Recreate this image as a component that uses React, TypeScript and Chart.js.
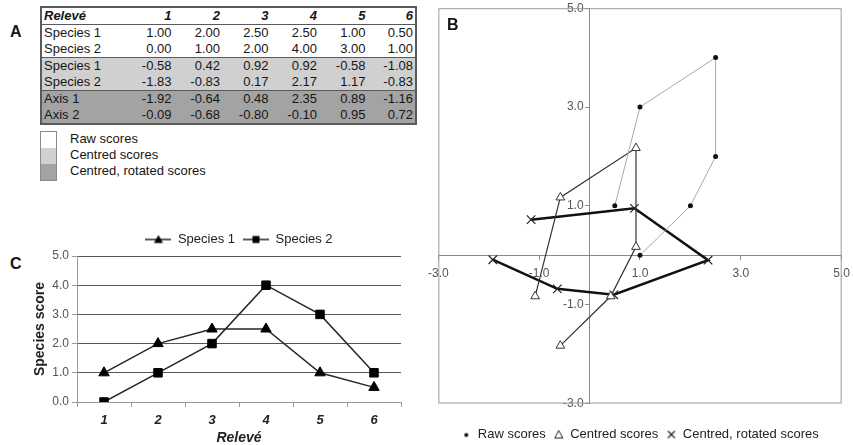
import React, { useEffect, useRef } from 'react';
import { Chart, registerables } from 'chart.js';

Chart.register(...registerables);

// ---------- data ----------
const releves = ['1', '2', '3', '4', '5', '6'];
const species1Raw = [1.0, 2.0, 2.5, 2.5, 1.0, 0.5];
const species2Raw = [0.0, 1.0, 2.0, 4.0, 3.0, 1.0];
const species1Centred = [-0.58, 0.42, 0.92, 0.92, -0.58, -1.08];
const species2Centred = [-1.83, -0.83, 0.17, 2.17, 1.17, -0.83];
const axis1Scores = [-1.92, -0.64, 0.48, 2.35, 0.89, -1.16];
const axis2Scores = [-0.09, -0.68, -0.8, -0.1, 0.95, 0.72];
const speciesNames = ['Species 1', 'Species 2'];
const axisNames = ['Axis 1', 'Axis 2'];
const scoreTypes = ['Raw scores', 'Centred scores', 'Centred, rotated scores'];
const groupColours = ['#ffffff', '#d0d0d0', '#a3a3a3'];
const tickValuesB = [-3, -1, 1, 3, 5];

const FONT = '"Liberation Sans", Arial, Helvetica, sans-serif';
Chart.defaults.font.family = FONT;

function makeIcon(w: number, h: number, draw: (ctx: CanvasRenderingContext2D) => void) {
  const c = document.createElement('canvas');
  c.width = w;
  c.height = h;
  const ctx = c.getContext('2d')!;
  draw(ctx);
  return c;
}

// ---------- Panel A ----------
function TablePanel() {
  const groups = [
    { bg: groupColours[0], rows: [[speciesNames[0], species1Raw], [speciesNames[1], species2Raw]] as [string, number[]][] },
    { bg: groupColours[1], rows: [[speciesNames[0], species1Centred], [speciesNames[1], species2Centred]] as [string, number[]][] },
    { bg: groupColours[2], rows: [[axisNames[0], axis1Scores], [axisNames[1], axis2Scores]] as [string, number[]][] },
  ];
  const cell: React.CSSProperties = { height: 16, padding: '0 2px', lineHeight: '16px', whiteSpace: 'nowrap' };
  const border = '1.5px solid #5a5a5a';
  return (
    <table
      style={{
        position: 'absolute',
        left: 40,
        top: 6,
        width: 375,
        borderCollapse: 'collapse',
        tableLayout: 'fixed',
        fontSize: 13,
        color: '#161616',
        border: '2px solid #5a5a5a',
      }}
    >
      <colgroup>
        <col style={{ width: 84 }} />
        {releves.map((r) => (
          <col key={r} style={{ width: 48.5 }} />
        ))}
      </colgroup>
      <tbody>
        <tr style={{ background: '#fff', borderBottom: border }}>
          <td style={{ ...cell, fontWeight: 'bold', fontStyle: 'italic', textAlign: 'left' }}>Relevé</td>
          {releves.map((r) => (
            <td key={r} style={{ ...cell, fontWeight: 'bold', fontStyle: 'italic', textAlign: 'right' }}>
              {r}
            </td>
          ))}
        </tr>
        {groups.map((g, gi) =>
          g.rows.map(([name, vals], ri) => (
            <tr
              key={gi + '-' + ri}
              style={{ background: g.bg, borderBottom: ri === 1 && gi < 2 ? border : 'none' }}
            >
              <td style={{ ...cell, textAlign: 'left' }}>{name}</td>
              {vals.map((v, i) => (
                <td key={i} style={{ ...cell, textAlign: 'right' }}>
                  {v.toFixed(2)}
                </td>
              ))}
            </tr>
          ))
        )}
      </tbody>
    </table>
  );
}

function TableLegend() {
  return (
    <div style={{ position: 'absolute', left: 40, top: 131 }}>
      <div style={{ position: 'absolute', left: 0, top: 0, width: 15, border: '1px solid #8a8a8a' }}>
        {groupColours.map((c, i) => (
          <div key={i} style={{ height: 16, background: c }} />
        ))}
      </div>
      {scoreTypes.map((t, i) => (
        <div
          key={t}
          style={{ position: 'absolute', left: 30, top: i * 16, fontSize: 13, lineHeight: '16px', whiteSpace: 'nowrap', color: '#161616' }}
        >
          {t}
        </div>
      ))}
    </div>
  );
}

// ---------- Panel C ----------
function LineChartC() {
  const ref = useRef<HTMLCanvasElement>(null);
  useEffect(() => {
    if (!ref.current) return;
    const triIcon = makeIcon(26, 12, (ctx) => {
      ctx.strokeStyle = '#222';
      ctx.lineWidth = 1.5;
      ctx.beginPath();
      ctx.moveTo(0, 6);
      ctx.lineTo(26, 6);
      ctx.stroke();
      ctx.fillStyle = '#000';
      ctx.beginPath();
      ctx.moveTo(13, 1.5);
      ctx.lineTo(17.5, 9.5);
      ctx.lineTo(8.5, 9.5);
      ctx.closePath();
      ctx.fill();
    });
    const sqIcon = makeIcon(26, 12, (ctx) => {
      ctx.strokeStyle = '#222';
      ctx.lineWidth = 1.5;
      ctx.beginPath();
      ctx.moveTo(0, 6);
      ctx.lineTo(26, 6);
      ctx.stroke();
      ctx.fillStyle = '#000';
      ctx.fillRect(9.5, 2.5, 7, 7);
    });
    const icons = [triIcon, sqIcon];
    const chart = new Chart(ref.current, {
      type: 'line',
      data: {
        labels: releves,
        datasets: [
          {
            label: speciesNames[0],
            data: species1Raw,
            borderColor: '#262626',
            borderWidth: 1.5,
            pointStyle: 'triangle',
            pointRadius: 6,
            pointBackgroundColor: '#000',
            pointBorderColor: '#000',
            pointBorderWidth: 1,
          },
          {
            label: speciesNames[1],
            data: species2Raw,
            borderColor: '#262626',
            borderWidth: 1.5,
            pointStyle: 'rect',
            pointRadius: 6,
            pointBackgroundColor: '#000',
            pointBorderColor: '#000',
            pointBorderWidth: 1,
          },
        ],
      },
      options: {
        animation: false,
        responsive: true,
        maintainAspectRatio: false,
        layout: { padding: { left: 28, right: 24, top: 0, bottom: 0 } },
        plugins: {
          tooltip: { enabled: false },
          legend: {
            position: 'top',
            fullSize: false,
            labels: {
              usePointStyle: true,
              pointStyleWidth: 26,
              padding: 8,
              color: '#222',
              font: { size: 13 },
              generateLabels: (ch) =>
                ch.data.datasets.map((ds, i) => ({
                  text: ds.label as string,
                  pointStyle: icons[i] as any,
                  fillStyle: '#000',
                  strokeStyle: '#000',
                  lineWidth: 0,
                  hidden: false,
                  datasetIndex: i,
                  fontColor: '#222',
                })),
            },
          },
        },
        scales: {
          x: {
            type: 'category',
            offset: true,
            grid: { drawOnChartArea: false, offset: true, tickLength: 5, color: '#9a9a9a' },
            border: { color: '#9a9a9a' },
            ticks: { color: '#222', font: { size: 13, weight: 'bold', style: 'italic' }, padding: 6 },
            title: { display: true, text: 'Relevé', color: '#222', font: { size: 14, weight: 'bold', style: 'italic' } },
            afterFit: (s: any) => {
              s.height = 49;
            },
          },
          y: {
            min: 0,
            max: 5,
            ticks: { stepSize: 1, color: '#555', font: { size: 12 }, padding: 3, callback: (v: any) => Number(v).toFixed(1) },
            grid: { color: '#555', tickColor: '#9a9a9a', tickLength: 5, lineWidth: 1 },
            border: { color: '#9a9a9a' },
            title: { display: true, text: 'Species score', color: '#222', font: { size: 14, weight: 'bold' } },
            afterFit: (s: any) => {
              s.width = 49;
            },
          },
        },
      },
    });
    return () => chart.destroy();
  }, []);
  return (
    <div style={{ position: 'absolute', left: 0, top: 225, width: 425, height: 226 }}>
      <canvas ref={ref} />
    </div>
  );
}

// ---------- Panel B ----------
function ScatterB() {
  const ref = useRef<HTMLCanvasElement>(null);
  useEffect(() => {
    if (!ref.current) return;
    const dotIcon = makeIcon(10, 12, (ctx) => {
      ctx.fillStyle = '#111';
      ctx.beginPath();
      ctx.arc(5, 6.5, 2, 0, Math.PI * 2);
      ctx.fill();
    });
    const triIcon = makeIcon(10, 12, (ctx) => {
      ctx.strokeStyle = '#222';
      ctx.lineWidth = 1;
      ctx.beginPath();
      ctx.moveTo(5, 2);
      ctx.lineTo(9, 9.5);
      ctx.lineTo(1, 9.5);
      ctx.closePath();
      ctx.stroke();
    });
    const crossIcon = makeIcon(10, 12, (ctx) => {
      ctx.strokeStyle = '#222';
      ctx.lineWidth = 1.2;
      ctx.beginPath();
      ctx.moveTo(1.5, 2.5);
      ctx.lineTo(8.5, 9.5);
      ctx.moveTo(8.5, 2.5);
      ctx.lineTo(1.5, 9.5);
      ctx.stroke();
    });
    const icons = [dotIcon, triIcon, crossIcon];
    const framePlugin = {
      id: 'frame',
      beforeDatasetsDraw(ch: any) {
        const { ctx, chartArea } = ch;
        ctx.save();
        ctx.strokeStyle = '#9a9a9a';
        ctx.lineWidth = 1;
        ctx.strokeRect(chartArea.left + 0.5, chartArea.top + 0.5, chartArea.right - chartArea.left - 1, chartArea.bottom - chartArea.top - 1);
        ctx.restore();
      },
    };
    // centred axes: keep their labels clear of the tick marks, as in an edge axis
    const labelGapPlugin = {
      id: 'labelGap',
      afterLayout(ch: any) {
        const shifts: Record<string, [number, number]> = { x: [0, 4], y: [-6, 0] };
        Object.keys(shifts).forEach((id) => {
          const sc = ch.scales[id];
          if (!sc || sc.__gapPatched) return;
          const orig = sc.drawLabels.bind(sc);
          sc.drawLabels = (area: any) => {
            ch.ctx.save();
            ch.ctx.translate(shifts[id][0], shifts[id][1]);
            orig(area);
            ch.ctx.restore();
          };
          sc.__gapPatched = true;
        });
      },
    };
    const toPts = (xs: number[], ys: number[]) => xs.map((x, i) => ({ x, y: ys[i] }));
    const axisCommon = (extra: any) => ({
      type: 'linear',
      min: tickValuesB[0],
      max: tickValuesB[tickValuesB.length - 1],
      ticks: { stepSize: 2, color: '#555', font: { size: 12 }, padding: 3, callback: (v: any) => Number(v).toFixed(1) },
      grid: { drawOnChartArea: false, tickLength: 4, color: '#8a8a8a' },
      border: { color: '#8a8a8a', width: 1 },
      ...extra,
    });
    const chart = new Chart(ref.current, {
      type: 'scatter',
      data: {
        datasets: [
          {
            label: scoreTypes[0],
            data: toPts(species1Raw, species2Raw),
            showLine: true,
            borderColor: '#a8a8a8',
            borderWidth: 1,
            pointStyle: 'circle',
            pointRadius: 2.5,
            pointBackgroundColor: '#111',
            pointBorderColor: '#111',
            pointBorderWidth: 0,
          },
          {
            label: scoreTypes[1],
            data: toPts(species1Centred, species2Centred),
            showLine: true,
            borderColor: '#333',
            borderWidth: 1.2,
            pointStyle: 'triangle',
            pointRadius: 5,
            pointBackgroundColor: '#fff',
            pointBorderColor: '#333',
            pointBorderWidth: 1,
          },
          {
            label: scoreTypes[2],
            data: toPts(axis1Scores, axis2Scores),
            showLine: true,
            borderColor: '#111',
            borderWidth: 2.5,
            pointStyle: 'crossRot',
            pointRadius: 6,
            pointBorderColor: '#222',
            pointBorderWidth: 1.2,
          },
        ],
      },
      options: {
        animation: false,
        responsive: true,
        maintainAspectRatio: false,
        layout: { padding: 0 },
        plugins: {
          tooltip: { enabled: false },
          legend: {
            position: 'bottom',
            fullSize: false,
            title: { display: true, text: '', font: { size: 1, lineHeight: 1 }, padding: { top: 15.5, bottom: 0 } },
            labels: {
              usePointStyle: true,
              pointStyleWidth: 10,
              padding: 8,
              color: '#222',
              font: { size: 13 },
              generateLabels: (ch) =>
                ch.data.datasets.map((ds, i) => ({
                  text: ds.label as string,
                  pointStyle: icons[i] as any,
                  fillStyle: '#000',
                  strokeStyle: '#000',
                  lineWidth: 0,
                  hidden: false,
                  datasetIndex: i,
                  fontColor: '#222',
                })),
            },
          },
        },
        scales: {
          x: axisCommon({ position: { y: 0 } }),
          y: axisCommon({ position: { x: 0 } }),
        },
      },
      plugins: [framePlugin, labelGapPlugin],
    } as any);
    chart.draw();
    return () => chart.destroy();
  }, []);
  return (
    <div style={{ position: 'absolute', left: 425, top: -2, width: 428, height: 453 }}>
      <canvas ref={ref} />
    </div>
  );
}

export default function App() {
  return (
    <div
      style={{
        position: 'absolute',
        left: 0,
        top: 0,
        width: 853,
        height: 445,
        overflow: 'hidden',
        background: '#fff',
        fontFamily: FONT,
        color: '#161616',
      }}
    >
      <div style={{ position: 'absolute', left: 10, top: 23, fontSize: 16, fontWeight: 'bold' }}>A</div>
      <div style={{ position: 'absolute', left: 10, top: 255, fontSize: 16, fontWeight: 'bold' }}>C</div>
      <TablePanel />
      <TableLegend />
      <LineChartC />
      <ScatterB />
      <div style={{ position: 'absolute', left: 447, top: 16, fontSize: 16, fontWeight: 'bold' }}>B</div>
    </div>
  );
}
